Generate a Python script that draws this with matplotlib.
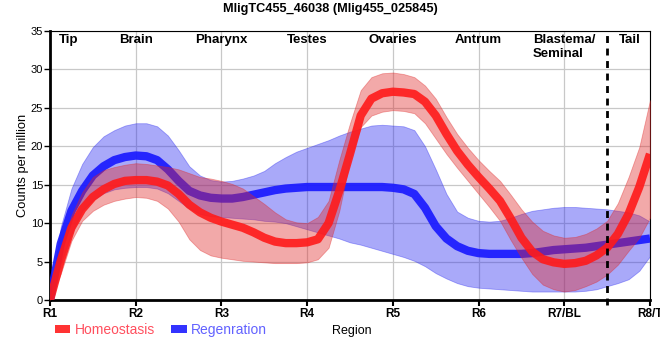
import matplotlib
matplotlib.use('Agg')
import matplotlib.pyplot as plt
import matplotlib.patches as mpatches

plt.rcParams['font.family'] = ['Liberation Sans', 'DejaVu Sans']

# positions along the body (R1 = 1 ... R8/T = 8), every 1/8 of a region
x_pos = [1 + 0.125 * k for k in range(57)]

homeo_mean = [0, 5.1, 9.4, 11.8, 13.4, 14.4, 15.1, 15.5,
              15.6, 15.6, 15.4, 14.9, 13.8, 12.4, 11.4, 10.7,
              10.2, 9.8, 9.4, 8.8, 8.1, 7.6, 7.4, 7.4,
              7.5, 7.9, 10.0, 14.2, 19.0, 24.0, 26.2, 26.9,
              27.1, 27.0, 26.8, 25.8, 24.0, 21.6, 19.4, 17.6,
              16.0, 14.5, 12.9, 10.6, 8.1, 6.3, 5.3, 4.9,
              4.7, 4.8, 5.1, 5.8, 6.8, 8.6, 11.2, 14.7,
              19.0]
homeo_low = [0, 3.4, 7.7, 10.3, 11.6, 12.4, 12.9, 13.2,
             13.4, 13.3, 12.9, 11.9, 10.2, 7.9, 6.5, 5.8,
             5.5, 5.3, 5.1, 5.0, 4.9, 4.8, 4.8, 4.8,
             4.9, 5.3, 6.8, 11.6, 18.2, 22.5, 24.0, 24.5,
             24.7, 24.6, 24.3, 23.0, 21.0, 19.0, 17.2, 15.5,
             13.8, 12.1, 10.3, 7.8, 5.5, 3.4, 2.0, 1.4,
             1.1, 1.3, 1.8, 2.4, 3.3, 4.6, 6.4, 8.1,
             10.7]
homeo_high = [0, 6.5, 11.0, 14.0, 16.0, 16.9, 17.3, 17.6,
              17.8, 17.7, 17.5, 17.3, 17.0, 16.5, 16.0, 15.8,
              15.5, 15.1, 14.5, 13.5, 12.5, 11.4, 10.5, 10.1,
              10.0, 10.8, 12.9, 18.2, 23.0, 27.3, 29.0, 29.5,
              29.6, 29.4, 29.0, 27.9, 26.2, 23.8, 21.6, 19.8,
              18.2, 16.8, 15.5, 13.7, 11.8, 10.2, 9.0, 8.4,
              8.1, 8.2, 8.6, 9.3, 10.3, 12.6, 16.0, 19.9,
              26.0]

regen_mean = [0, 7.3, 11.6, 14.2, 16.2, 17.4, 18.2, 18.6,
              18.8, 18.7, 18.2, 17.0, 15.5, 14.2, 13.6, 13.3,
              13.2, 13.2, 13.4, 13.7, 14.0, 14.3, 14.5, 14.6,
              14.7, 14.7, 14.7, 14.7, 14.7, 14.7, 14.7, 14.7,
              14.6, 14.4, 13.8, 12.0, 9.6, 8.0, 7.0, 6.4,
              6.1, 6.0, 6.0, 6.0, 6.0, 6.1, 6.3, 6.5,
              6.6, 6.7, 6.8, 7.0, 7.2, 7.4, 7.6, 7.8,
              8.0]
regen_low = [0, 4.7, 8.6, 11.6, 13.0, 13.9, 14.4, 14.6,
             14.7, 14.7, 14.5, 13.9, 12.9, 11.9, 11.2, 10.9,
             10.8, 10.7, 10.6, 10.5, 10.3, 10.2, 10.0, 9.6,
             9.2, 8.8, 8.4, 8.0, 7.5, 7.2, 6.8, 6.4,
             6.0, 5.6, 5.1, 4.4, 3.5, 2.8, 2.2, 1.8,
             1.6, 1.5, 1.4, 1.3, 1.2, 1.1, 1.1, 1.1,
             1.1, 1.1, 1.2, 1.4, 1.8, 2.2, 2.7, 3.8,
             5.7]
regen_high = [0, 9.5, 14.5, 17.7, 19.9, 21.3, 22.1, 22.7,
              23.0, 23.0, 22.6, 21.4, 19.5, 17.4, 16.2, 15.6,
              15.4, 15.5, 15.8, 16.2, 16.8, 17.8, 18.6, 19.3,
              19.8, 20.3, 20.8, 21.4, 21.9, 22.3, 22.7, 22.8,
              22.7, 22.6, 22.1, 20.0, 17.0, 13.8, 11.5, 10.7,
              10.3, 10.2, 10.3, 10.7, 11.2, 11.6, 11.8, 12.0,
              12.1, 12.1, 12.0, 11.9, 11.8, 11.6, 11.4, 11.0,
              10.2]

tick_pos = [1, 2, 3, 4, 5, 6, 7, 8]
tick_labels = ['R1', 'R2', 'R3', 'R4', 'R5', 'R6', 'R7/BL', 'R8/T']

region_names = ['Tip', 'Brain', 'Pharynx', 'Testes', 'Ovaries', 'Antrum', 'Blastema/\nSeminal', 'Tail']
region_pos = [1.22, 2, 3, 4, 5, 6, 7, 7.77]
tail_boundary = 7.5

fig = plt.figure(figsize=(6.6, 3.6), dpi=100)
ax = fig.add_axes([50 / 660, 1 - 300 / 360, 600 / 660, 269 / 360])

ax.fill_between(x_pos, regen_low, regen_high, facecolor='#2828f0', alpha=0.4,
                edgecolor='#2828f0', linewidth=0.6, zorder=2)
ax.plot(x_pos, regen_mean, color='#1a1aff', lw=6, alpha=0.92,
        solid_capstyle='butt', solid_joinstyle='round', zorder=3)
ax.fill_between(x_pos, homeo_low, homeo_high, facecolor='#e02828', alpha=0.4,
                edgecolor='#e02828', linewidth=0.6, zorder=4)
ax.plot(x_pos, homeo_mean, color='#ff1a1a', lw=6, alpha=0.9,
        solid_capstyle='butt', solid_joinstyle='round', zorder=5)

ax.plot([tail_boundary, tail_boundary], [-0.7, 35], color='black', lw=2,
        ls=(0, (2.5, 2)), clip_on=False, zorder=6)

for name, pos in zip(region_names, region_pos):
    ax.text(pos, 34.6, name, ha='center', va='top', multialignment='left',
            fontsize=9.5, fontweight='bold', zorder=7)

ax.set_xlim(1, 8)
ax.set_ylim(0, 35)
ax.set_xticks(tick_pos)
ax.set_xticklabels(tick_labels, fontsize=8.5, fontweight='bold')
ax.set_yticks(range(0, 36, 5))
ax.tick_params(axis='y', labelsize=8, length=4, width=1, pad=1)
ax.tick_params(axis='x', length=4, width=1.5, pad=2)
ax.grid(True, color='#c8c8c8', lw=0.9, zorder=0)
ax.set_axisbelow(True)

for side in ['left', 'bottom']:
    ax.spines[side].set_linewidth(2)
for side in ['top', 'right']:
    ax.spines[side].set_linewidth(0.8)

ax.set_ylabel('Counts per million', fontsize=9.3, labelpad=1)
fig.text(352 / 660, 1 - 331 / 360, 'Region', ha='center', va='center', fontsize=9)
fig.text(330 / 660, 1 - 9 / 360, 'MligTC455_46038 (Mlig455_025845)', ha='center', va='center',
         fontsize=9.2, fontweight='bold')

handles = [mpatches.Patch(facecolor='#ff3333', edgecolor='none'),
           mpatches.Patch(facecolor='#3333ff', edgecolor='none')]
leg = fig.legend(handles, ['Homeostasis', 'Regenration'], loc='center left',
                 bbox_to_anchor=(55 / 660, 1 - 330 / 360), ncol=2, frameon=False,
                 fontsize=10, handlelength=1.1, handleheight=0.45, handletextpad=0.3,
                 columnspacing=1.2, borderpad=0, borderaxespad=0)
for txt, col in zip(leg.get_texts(), ['#ff4f5e', '#6262ff']):
    txt.set_color(col)

fig.savefig('out.png', dpi=100)
